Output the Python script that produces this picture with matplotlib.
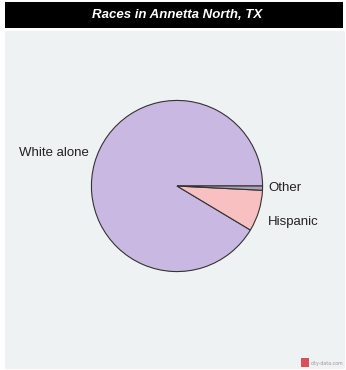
import matplotlib
matplotlib.use('Agg')
import matplotlib.pyplot as plt
from matplotlib.patches import Rectangle

# Race shares (percent)
labels = ['White alone', 'Hispanic', 'Other']
shares = [91.4, 7.8, 0.8]
colors = ['#c9b8e2', '#f8c0c0', '#a9a2b8']
title = 'Races in Annetta North, TX'

fig = plt.figure(figsize=(3.46, 3.70), dpi=100)
fig.patch.set_facecolor('white')

# Panel background and title bar
fig.add_artist(Rectangle((5 / 346, 1 / 370), 340 / 346, 338 / 370,
                         transform=fig.transFigure, facecolor='#eef2f2',
                         edgecolor='none', zorder=0))
fig.add_artist(Rectangle((5 / 346, 342 / 370), 338 / 346, 26 / 370,
                         transform=fig.transFigure, facecolor='black',
                         edgecolor='none', zorder=0))
fig.text(177 / 346, 355 / 370, title, color='white', fontsize=9.5,
         fontstyle='italic', fontweight='bold', ha='center', va='center',
         family='Liberation Sans')

# Pie: center (177,186), radius ~86 px
r = 86
ax = fig.add_axes([(177 - r) / 346, (370 - 186 - r) / 370, 2 * r / 346, 2 * r / 370])
ax.pie(shares, colors=colors, startangle=0, counterclock=True,
       wedgeprops=dict(edgecolor='#333333', linewidth=0.8))
ax.set_xlim(-1.005, 1.005)
ax.set_ylim(-1.005, 1.005)
ax.set_aspect('auto')
ax.axis('off')

fig.text(89 / 346, 1 - 153 / 370, labels[0], fontsize=9.5, ha='right',
         va='center', color='#222222', family='Liberation Sans')
fig.text(268 / 346, 1 - 188 / 370, labels[2], fontsize=9.5, ha='left',
         va='center', color='#222222', family='Liberation Sans')
fig.text(268 / 346, 1 - 222 / 370, labels[1], fontsize=9.5, ha='left',
         va='center', color='#222222', family='Liberation Sans')

# Watermark
fig.add_artist(Rectangle((301 / 346, 1 - 367 / 370), 8 / 346, 9 / 370,
                         transform=fig.transFigure, facecolor='#d8505c',
                         edgecolor='none'))
fig.text(311 / 346, 1 - 363 / 370, 'city-data.com', fontsize=3.4,
         color='#999999', ha='left', va='center')

fig.savefig('out.png', dpi=100)
